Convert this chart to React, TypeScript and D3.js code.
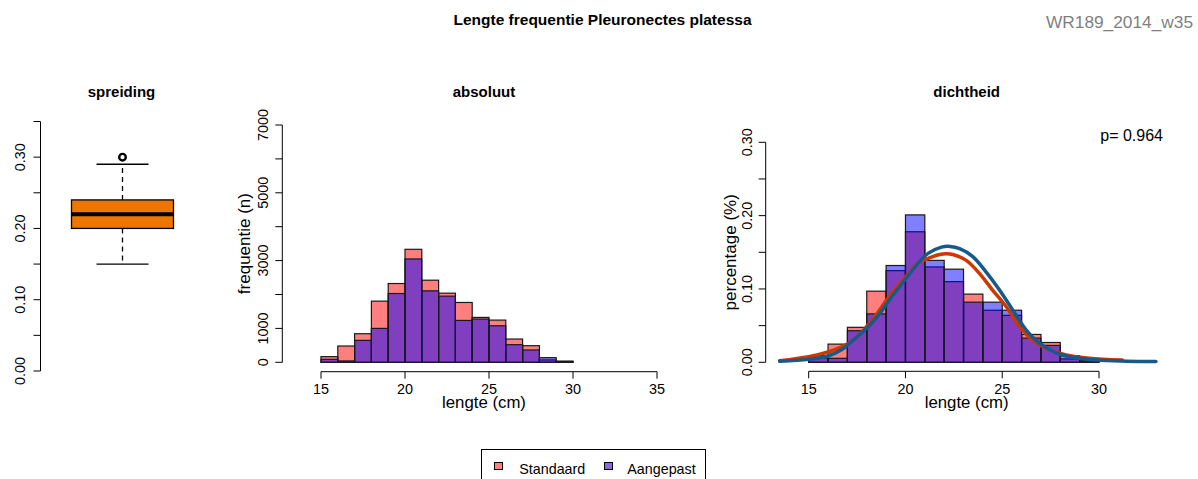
import React from "react";
import * as d3 from "d3";

// ---------- data ----------
const binStarts = [15, 16, 17, 18, 19, 20, 21, 22, 23, 24, 25, 26, 27, 28, 29];
const standaardCount = [167, 480, 843, 1804, 2324, 3333, 2422, 2039, 1765, 1324, 1245, 686, 490, 70, 30];
const aangepastCount = [88, 40, 647, 1000, 2029, 3049, 2108, 1951, 1235, 1275, 1078, 520, 363, 137, 30];
const standaardDens = [0.009, 0.0248, 0.0477, 0.097, 0.125, 0.178, 0.13, 0.11, 0.093, 0.071, 0.064, 0.038, 0.027, 0.0046, 0.002];
const aangepastDens = [0.0055, 0.0054, 0.043, 0.066, 0.132, 0.201, 0.139, 0.127, 0.082, 0.082, 0.071, 0.033, 0.023, 0.009, 0.002];

const standaardCurveX = [13.5, 15.0, 16.0, 16.7, 17.4, 17.9, 18.6, 19.28, 19.96, 20.65, 21.34, 21.77, 22.1, 22.45, 23.14, 23.83, 24.5, 25.2, 25.9, 26.58, 27.27, 28.3, 29.5, 31.2];
const standaardCurveY = [0.002, 0.0075, 0.014, 0.021, 0.032, 0.046, 0.069, 0.094, 0.115, 0.135, 0.1435, 0.147, 0.148, 0.147, 0.139, 0.121, 0.0985, 0.076, 0.0485, 0.03, 0.019, 0.01, 0.0055, 0.003];
const aangepastCurveX = [13.5, 15.0, 16.0, 16.7, 17.2, 17.9, 18.6, 19.28, 19.96, 20.65, 21.17, 21.86, 22.3, 22.8, 23.48, 24.17, 24.86, 25.55, 26.24, 26.92, 27.78, 28.64, 29.85, 31.4, 32.94];
const aangepastCurveY = [0.0015, 0.004, 0.0086, 0.017, 0.028, 0.044, 0.064, 0.089, 0.112, 0.135, 0.1485, 0.157, 0.158, 0.155, 0.144, 0.123, 0.0985, 0.071, 0.044, 0.026, 0.013, 0.0068, 0.003, 0.0015, 0.001];

const boxStats = [0.15, 0.2, 0.22, 0.24, 0.29]; // min, q1, median, q3, max
const boxOutliers = [0.3];

const boxTicks = [0, 0.05, 0.1, 0.15, 0.2, 0.25, 0.3, 0.35];
const boxTickLabels = ["0.00", "0.10", "0.20", "0.30"];
const absYTicks = [0, 1000, 2000, 3000, 4000, 5000, 6000, 7000];
const absYLabels = [0, 1000, 3000, 5000, 7000];
const absXTicks = [15, 20, 25, 30, 35];
const densYTicks = [0, 0.05, 0.1, 0.15, 0.2, 0.25, 0.3];
const densYLabels = ["0.00", "0.10", "0.20", "0.30"];
const densXTicks = [15, 20, 25, 30];

const legendLabels = ["Standaard", "Aangepast"];

const FONT = "'Liberation Sans', Arial, Helvetica, sans-serif";
const RED = "rgba(255,0,0,0.5)";
const BLUE = "rgba(0,0,255,0.5)";
const EDGE = "#1a1a1a";

function RotLabel({ x, y, text, size }: { x: number; y: number; text: string; size: number }) {
  return (
    <text transform={`translate(${x},${y}) rotate(-90)`} textAnchor="middle" fontSize={size} fill="#000">
      {text}
    </text>
  );
}

export default function App() {
  // ---------- boxplot panel ----------
  const by = d3.scaleLinear().domain([0, 0.35]).range([371, 121.5]);
  const boxAxisX = 40.5;
  const boxCx = 122.5;
  const boxHalf = 51;
  const capHalf = 26;

  // ---------- absolute panel ----------
  const ax = d3.scaleLinear().domain([15, 35]).range([321, 657]);
  const ay = d3.scaleLinear().domain([0, 7000]).range([362.3, 125]);
  const absAxisX = 282.3;
  const absXAxisY = 371.7;

  // ---------- density panel ----------
  const dx = d3.scaleLinear().domain([15, 30]).range([808.7, 1099]);
  const dy = d3.scaleLinear().domain([0, 0.3]).range([362.3, 142.3]);
  const densAxisX = 765.7;
  const densXAxisY = 371.3;

  const line = d3
    .line<[number, number]>()
    .x((d) => dx(d[0]))
    .y((d) => dy(d[1]))
    .curve(d3.curveCatmullRom.alpha(0.5));
  const redPts = standaardCurveX.map((x, i) => [x, standaardCurveY[i]] as [number, number]);
  const bluePts = aangepastCurveX.map((x, i) => [x, aangepastCurveY[i]] as [number, number]);

  return (
    <svg
      width={1198}
      height={479}
      style={{ position: "fixed", left: 0, top: 0, background: "#fff" }}
      fontFamily={FONT}
    >
      <rect x={0} y={0} width={1198} height={479} fill="#fff" />

      {/* main title */}
      <text x={602.5} y={25} textAnchor="middle" fontWeight="bold" fontSize={15.5}>
        Lengte frequentie Pleuronectes platessa
      </text>
      <text x={1193} y={28} textAnchor="end" fontSize={17.3} fill="#7f7f7f">
        WR189_2014_w35
      </text>

      {/* ===== boxplot ===== */}
      <text x={121.5} y={97} textAnchor="middle" fontWeight="bold" fontSize={15}>
        spreiding
      </text>
      <line x1={boxAxisX} x2={boxAxisX} y1={by(0)} y2={by(0.35)} stroke="#000" />
      {boxTicks.map((t) => (
        <line key={t} x1={boxAxisX - 7} x2={boxAxisX} y1={by(t)} y2={by(t)} stroke="#000" />
      ))}
      {boxTickLabels.map((l) => (
        <RotLabel key={l} x={25} y={by(+l)} text={l} size={14.4} />
      ))}
      {/* whiskers */}
      <line x1={boxCx} x2={boxCx} y1={by(boxStats[3])} y2={by(boxStats[4])} stroke="#000" strokeDasharray="5,4" strokeWidth={1.3} />
      <line x1={boxCx} x2={boxCx} y1={by(boxStats[1])} y2={by(boxStats[0])} stroke="#000" strokeDasharray="5,4" strokeWidth={1.3} />
      <line x1={boxCx - capHalf} x2={boxCx + capHalf} y1={by(boxStats[4])} y2={by(boxStats[4])} stroke="#000" strokeWidth={1.3} />
      <line x1={boxCx - capHalf} x2={boxCx + capHalf} y1={by(boxStats[0])} y2={by(boxStats[0])} stroke="#000" strokeWidth={1.3} />
      <rect
        x={boxCx - boxHalf}
        y={by(boxStats[3])}
        width={boxHalf * 2}
        height={by(boxStats[1]) - by(boxStats[3])}
        fill="#EE7600"
        stroke="#000"
        strokeWidth={1.3}
      />
      <line x1={boxCx - boxHalf} x2={boxCx + boxHalf} y1={by(boxStats[2])} y2={by(boxStats[2])} stroke="#000" strokeWidth={4} />
      {boxOutliers.map((o) => (
        <circle key={o} cx={boxCx} cy={by(o)} r={3.3} fill="none" stroke="#000" strokeWidth={2.4} />
      ))}

      {/* ===== absolute histogram ===== */}
      <text x={484} y={96.5} textAnchor="middle" fontWeight="bold" fontSize={15}>
        absoluut
      </text>
      {binStarts.map((b, i) => (
        <rect
          key={"sa" + b}
          x={ax(b)}
          y={ay(standaardCount[i])}
          width={ax(b + 1) - ax(b)}
          height={ay(0) - ay(standaardCount[i])}
          fill={RED}
          stroke={EDGE}
          strokeWidth={1.2}
        />
      ))}
      {binStarts.map((b, i) => (
        <rect
          key={"aa" + b}
          x={ax(b)}
          y={ay(aangepastCount[i])}
          width={ax(b + 1) - ax(b)}
          height={ay(0) - ay(aangepastCount[i])}
          fill={BLUE}
          stroke={EDGE}
          strokeWidth={1.2}
        />
      ))}
      <line x1={absAxisX} x2={absAxisX} y1={ay(0)} y2={ay(7000)} stroke="#000" />
      {absYTicks.map((t) => (
        <line key={t} x1={absAxisX - 7} x2={absAxisX} y1={ay(t)} y2={ay(t)} stroke="#000" />
      ))}
      {absYLabels.map((t) => (
        <RotLabel key={t} x={268.3} y={ay(t)} text={String(t)} size={14.4} />
      ))}
      <line x1={ax(15)} x2={ax(35)} y1={absXAxisY} y2={absXAxisY} stroke="#000" />
      {absXTicks.map((t) => (
        <g key={t}>
          <line x1={ax(t)} x2={ax(t)} y1={absXAxisY} y2={absXAxisY + 7} stroke="#000" />
          <text x={ax(t)} y={394} textAnchor="middle" fontSize={14.4}>
            {t}
          </text>
        </g>
      ))}
      <text x={484} y={408} textAnchor="middle" fontSize={16.8}>
        lengte (cm)
      </text>
      <RotLabel x={250} y={243.6} text="frequentie (n)" size={17} />

      {/* ===== density histogram ===== */}
      <text x={966.7} y={96.5} textAnchor="middle" fontWeight="bold" fontSize={15}>
        dichtheid
      </text>
      <text x={1163} y={140.5} textAnchor="end" fontSize={16}>
        p= 0.964
      </text>
      {binStarts.map((b, i) => (
        <rect
          key={"sd" + b}
          x={dx(b)}
          y={dy(standaardDens[i])}
          width={dx(b + 1) - dx(b)}
          height={dy(0) - dy(standaardDens[i])}
          fill={RED}
          stroke={EDGE}
          strokeWidth={1.2}
        />
      ))}
      {binStarts.map((b, i) => (
        <rect
          key={"ad" + b}
          x={dx(b)}
          y={dy(aangepastDens[i])}
          width={dx(b + 1) - dx(b)}
          height={dy(0) - dy(aangepastDens[i])}
          fill={BLUE}
          stroke={EDGE}
          strokeWidth={1.2}
        />
      ))}
      <path d={line(redPts) || ""} fill="none" stroke="#CD3700" strokeWidth={3.5} strokeLinecap="round" />
      <path d={line(bluePts) || ""} fill="none" stroke="#155A8A" strokeWidth={3.5} strokeLinecap="round" />
      <line x1={densAxisX} x2={densAxisX} y1={dy(0)} y2={dy(0.3)} stroke="#000" />
      {densYTicks.map((t) => (
        <line key={t} x1={densAxisX - 7} x2={densAxisX} y1={dy(t)} y2={dy(t)} stroke="#000" />
      ))}
      {densYLabels.map((l) => (
        <RotLabel key={l} x={751.7} y={dy(+l)} text={l} size={14.4} />
      ))}
      <line x1={dx(15)} x2={dx(30)} y1={densXAxisY} y2={densXAxisY} stroke="#000" />
      {densXTicks.map((t) => (
        <g key={t}>
          <line x1={dx(t)} x2={dx(t)} y1={densXAxisY} y2={densXAxisY + 7} stroke="#000" />
          <text x={dx(t)} y={394} textAnchor="middle" fontSize={14.4}>
            {t}
          </text>
        </g>
      ))}
      <text x={966.7} y={408} textAnchor="middle" fontSize={16.8}>
        lengte (cm)
      </text>
      <RotLabel x={736} y={252.3} text="percentage (%)" size={17} />

      {/* ===== legend ===== */}
      <rect x={481.5} y={449.5} width={224} height={40} fill="#fff" stroke="#000" />
      <rect x={494.5} y={462.5} width={8} height={7} fill="#FF8080" stroke="#000" />
      <text x={519.3} y={474} fontSize={14.3}>
        {legendLabels[0]}
      </text>
      <rect x={604.5} y={462.5} width={8} height={7} fill="#8769E1" stroke="#000" />
      <text x={627.3} y={474} fontSize={14.3}>
        {legendLabels[1]}
      </text>
    </svg>
  );
}
